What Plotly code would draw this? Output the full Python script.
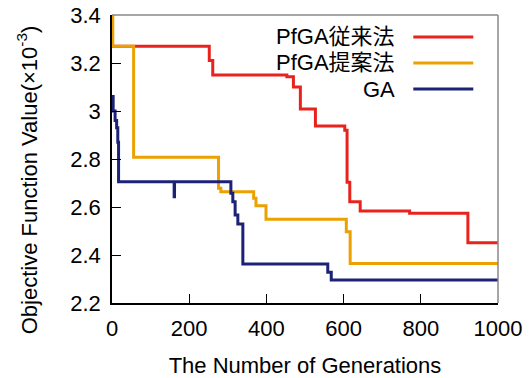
import plotly.graph_objects as go

# ---- data ----
gen_red = [0, 252, 261, 453, 470, 488, 527, 603, 609, 616, 643, 771, 922, 1000]
val_red = [3.27, 3.21, 3.15, 3.143, 3.10, 3.008, 2.937, 2.92, 2.703, 2.622, 2.583, 2.574, 2.451, 2.451]

gen_org = [0, 2, 56, 276, 282, 367, 373, 399, 607, 617, 1000]
val_org = [3.45, 3.27, 2.807, 2.678, 2.664, 2.636, 2.605, 2.549, 2.497, 2.365, 2.365]

gen_ga = [0, 3, 8, 12, 15, 17, 161, 162, 308, 313, 319, 326, 339, 559, 568, 1000]
val_ga = [3.06, 3.0, 2.96, 2.93, 2.87, 2.705, 2.643, 2.705, 2.657, 2.622, 2.567, 2.529, 2.3625, 2.328, 2.296, 2.296]

names = ["PfGA従来法", "PfGA提案法", "GA"]
colors = ["#e8231d", "#eca100", "#1c2275"]
x_ticks = [0, 200, 400, 600, 800, 1000]
y_ticks = [2.2, 2.4, 2.6, 2.8, 3.0, 3.2, 3.4]
y_ticklabels = ["2.2", "2.4", "2.6", "2.8", "3", "3.2", "3.4"]

FONT = "Liberation Sans, Arial, Noto Sans CJK JP, sans-serif"
FS = 22

fig = go.Figure()
for g, v, n, c in zip([gen_red, gen_org, gen_ga], [val_red, val_org, val_ga], names, colors):
    fig.add_trace(go.Scatter(x=g, y=v, mode="lines", name=n,
                             line=dict(color=c, width=3, shape="hv"), showlegend=False))

L, R, T, B = 111.7, 497.7, 15, 303
W, H = R - L, B - T
def px(x): return (x - L) / W
def py(y): return (B - y) / H

# manual legend (text right-aligned, line sample to the right)
rows = [37, 63, 89]
for n, c, ry in zip(names, colors, rows):
    fig.add_annotation(x=px(397), y=py(ry), xref="paper", yref="paper", text=n,
                       showarrow=False, xanchor="right", yanchor="middle",
                       font=dict(size=FS, color="black", family=FONT))
    fig.add_shape(type="line", xref="paper", yref="paper", x0=px(413), x1=px(473),
                  y0=py(ry), y1=py(ry), line=dict(color=c, width=3))

# top/right gray frame
fig.add_shape(type="line", xref="paper", yref="paper", x0=0, x1=1, y0=1, y1=1,
              line=dict(color="#888888", width=1.5))
fig.add_shape(type="line", xref="paper", yref="paper", x0=1, x1=1, y0=0, y1=1,
              line=dict(color="#888888", width=1.5))

# y-axis title
fig.add_annotation(x=px(27), y=py(180), xref="paper", yref="paper",
                   text="Objective Function Value(×10<sup>-3</sup>)", textangle=-90,
                   showarrow=False, xanchor="center", yanchor="middle",
                   font=dict(size=FS, color="black", family=FONT))

fig.update_layout(
    width=531, height=378,
    margin=dict(l=L, r=531 - R, t=T, b=378 - B, autoexpand=False),
    paper_bgcolor="white", plot_bgcolor="white",
    font=dict(family=FONT, size=FS, color="black"),
    xaxis=dict(range=[0, 1000], tickvals=x_ticks, ticks="inside", ticklen=9,
               tickcolor="black", showline=True, linecolor="black", linewidth=1.5,
               showgrid=False, zeroline=False, tickfont=dict(size=FS), automargin=False,
               ticklabelstandoff=5,
               title=dict(text="The Number of Generations", font=dict(size=FS), standoff=18)),
    yaxis=dict(range=[2.2, 3.4], tickvals=y_ticks, ticktext=y_ticklabels, ticks="inside",
               ticklen=9, tickcolor="black", showline=True, linecolor="black", linewidth=1.5,
               showgrid=False, zeroline=False, tickfont=dict(size=FS), automargin=False,
               ticklabelstandoff=5),
)

fig.write_html("out.html", config={"displayModeBar": False},
               post_script="document.body.style.margin='0';")
